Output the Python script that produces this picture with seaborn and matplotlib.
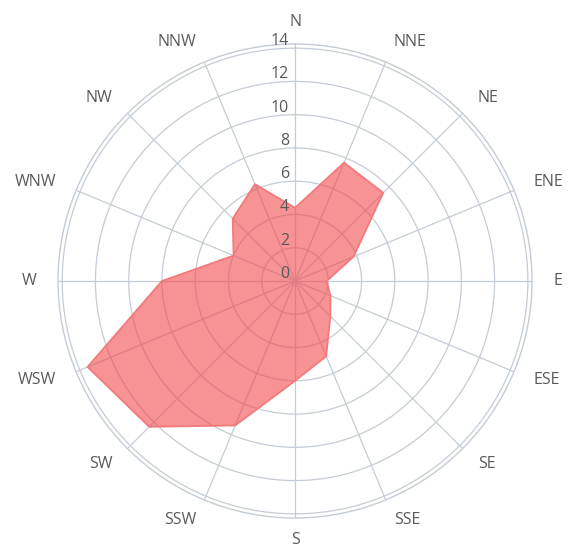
import numpy as np
import matplotlib
matplotlib.use("Agg")
import matplotlib.pyplot as plt
import matplotlib.transforms as mtransforms
import seaborn as sns

# wind directions and frequency values
directions = ["N", "NNE", "NE", "ENE", "E", "ESE", "SE", "SSE",
              "S", "SSW", "SW", "WSW", "W", "WNW", "NW", "NNW"]
values = [4.4, 7.7, 7.5, 3.8, 1.9, 2.3, 3.0, 4.9,
          6.0, 9.4, 12.4, 13.5, 8.0, 4.0, 5.3, 6.3]
r_ticks = [0, 2, 4, 6, 8, 10, 12, 14]

sns.set_style("white")
plt.rcParams["font.family"] = ["Open Sans", "DejaVu Sans"]

grid_col = "#c4ccd6"
text_col = "#5a5a5a"

fig = plt.figure(figsize=(5.7, 5.44), dpi=100)
ax = fig.add_axes([0.1018, 0.0478, 0.8316, 0.8713], projection="polar")
ax.set_theta_zero_location("N")
ax.set_theta_direction(-1)

theta = np.deg2rad(np.arange(len(directions)) * 360 / len(directions))
th_closed = np.append(theta, theta[0])
val_closed = np.append(values, values[0])

ax.fill(th_closed, val_closed, facecolor="#f24a4f", alpha=0.6,
        edgecolor="none", zorder=2)
ax.plot(th_closed, val_closed, color="#f37a7c", lw=1.3, zorder=3)

ax.set_ylim(0, 14.25)
ax.set_yticks(r_ticks)
ax.set_yticklabels([])
ax.set_xticks(theta)
ax.set_xticklabels([])
ax.grid(True, color=grid_col, lw=0.9)
ax.spines["polar"].set_color(grid_col)
ax.spines["polar"].set_linewidth(1.0)

# direction labels: left side right-aligned, right side left-aligned
label_r = 15.55
for t, name in zip(theta, directions):
    s = np.sin(t)
    ha = "center" if abs(s) < 0.01 else ("left" if s > 0 else "right")
    ax.text(t, label_r, name, ha=ha, va="center", color=text_col,
            fontsize=11.5, clip_on=False)

# radial labels to the left of the north axis
off = mtransforms.offset_copy(ax.transData, fig=fig, x=-6, y=7, units="dots")
for r in r_ticks:
    ax.text(0, r, str(r), transform=off, ha="right", va="center",
            color=text_col, fontsize=11.5, zorder=4)

fig.savefig("out.png", dpi=100)
